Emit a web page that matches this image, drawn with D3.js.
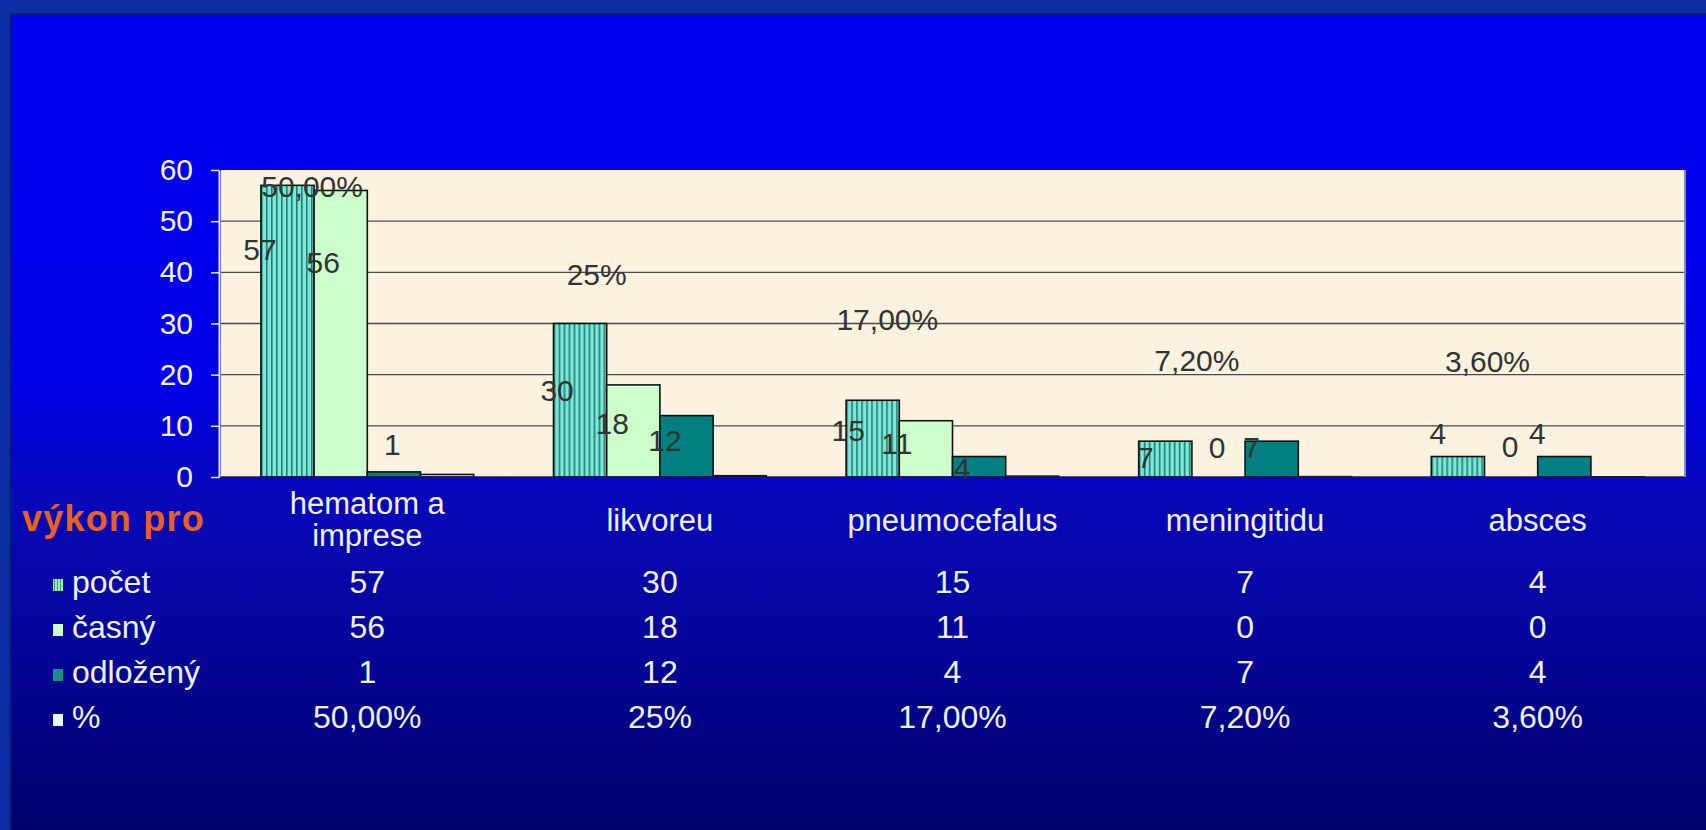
<!DOCTYPE html>
<html><head><meta charset="utf-8">
<script src="https://cdn.jsdelivr.net/npm/d3@7"></script>
<style>html,body{margin:0;padding:0;background:#0000e0;overflow:hidden}</style>
</head><body><svg id="chart" width="1706" height="830"></svg>
<script>
// ---- data ----
const categories = [["hematom a", "imprese"], ["likvoreu"], ["pneumocefalus"], ["meningitidu"], ["absces"]];
const seriesNames = ["počet", "časný", "odložený", "%"];
const pocet = [57, 30, 15, 7, 4];
const casny = [56, 18, 11, 0, 0];
const odlozeny = [1, 12, 4, 7, 4];
const percent = [0.5, 0.25, 0.17, 0.072, 0.036];
const percentLabels = ["50,00%", "25%", "17,00%", "7,20%", "3,60%"];
const yTicks = [0, 10, 20, 30, 40, 50, 60];
const tableHeader = "výkon pro";

// ---- layout (not data) ----
const W = 1706, H = 830;
const plot = {left: 221, right: 1684, top: 170, bottom: 477};
const FONT = "'Liberation Sans', Arial, sans-serif";
// label nudges [dx, dy] relative to bar centre / bar top (labels were hand-dragged in the original)
const labelNudge = [
  [[-27.5, 64], [-23, 66.5], [-24.5, 30], [-20, 16], [-20, -23.5]],
  [[-17.5, 72], [-21, 38], [-29, 22], [-1.5, -30], [-1, -31]],
  [[-1.5, -28], [-21.5, 25], [-17, 11.5], [-20, 6], [-27, -23.5]],
  [[-135, -288], [-143, -202], [-145, -157], [-128, -116], [-130, -116]]
];
const seriesValues = [pocet, casny, odlozeny, percent];
const seriesLabelText = [pocet.map(String), casny.map(String), odlozeny.map(String), percentLabels];
const tableText = [pocet.map(String), casny.map(String), odlozeny.map(String), percentLabels];
const seriesFill = ["url(#stripes)", "#ccffcc", "#008080", "#ccffff"];
const markerFill = ["url(#stripesSmall)", "#ccffcc", "#1a9080", "#e8ffff"];

const svg = d3.select("#chart");
const defs = svg.append("defs");

// background gradient
const g1 = defs.append("linearGradient").attr("id", "bg").attr("x1", 0).attr("y1", 0).attr("x2", 0).attr("y2", 1);
[[0, "#0000f2"], [0.45, "#0000e8"], [0.6, "#0808b8"], [0.8, "#040494"], [1, "#00006c"]]
  .forEach(([o, c]) => g1.append("stop").attr("offset", o).attr("stop-color", c));

// stripe pattern
const p = defs.append("pattern").attr("id", "stripes").attr("patternUnits", "userSpaceOnUse")
  .attr("width", 5).attr("height", 10);
p.append("rect").attr("width", 5).attr("height", 10).attr("fill", "#80e6d6");
p.append("rect").attr("x", 0).attr("width", 1.6).attr("height", 10).attr("fill", "#1b8078");
const p2 = defs.append("pattern").attr("id", "stripesSmall").attr("patternUnits", "userSpaceOnUse")
  .attr("width", 3).attr("height", 10);
p2.append("rect").attr("width", 3).attr("height", 10).attr("fill", "#a8f0b8");
p2.append("rect").attr("width", 1).attr("height", 10).attr("fill", "#2a9a70");

// background
svg.append("rect").attr("width", W).attr("height", H).attr("fill", "#0c2fa6");
svg.append("rect").attr("x", 10).attr("y", 13).attr("width", W - 10).attr("height", H - 13).attr("fill", "url(#bg)");
svg.append("line").attr("x1", 10.5).attr("x2", 10.5).attr("y1", 13).attr("y2", H).attr("stroke", "#0a1f70").attr("stroke-width", 2);
svg.append("line").attr("x1", 10).attr("x2", W).attr("y1", 14).attr("y2", 14).attr("stroke", "#0a1f70").attr("stroke-width", 2);

// scales
const x0 = d3.scaleBand().domain(d3.range(categories.length)).range([plot.left, plot.right]).paddingInner(0).paddingOuter(0);
const x1 = d3.scaleBand().domain(d3.range(seriesNames.length)).range([0, x0.bandwidth()]).paddingInner(0).paddingOuter(0.75);
const y = d3.scaleLinear().domain([0, 60]).range([plot.bottom, plot.top]);

// plot area
svg.append("rect").attr("x", plot.left).attr("y", plot.top).attr("width", plot.right - plot.left)
  .attr("height", plot.bottom - plot.top).attr("fill", "#fbf3df");
svg.append("line").attr("x1", plot.right + 1).attr("x2", plot.right + 1).attr("y1", plot.top).attr("y2", plot.bottom)
  .attr("stroke", "#8a8a9a").attr("stroke-width", 2);

// gridlines
svg.append("g").selectAll("line").data(yTicks.filter(t => t > 0 && t < 60)).join("line")
  .attr("x1", plot.left).attr("x2", plot.right).attr("y1", d => y(d)).attr("y2", d => y(d))
  .attr("stroke", "#4a4a4a").attr("stroke-width", 1.3);

// y axis
const yAxis = svg.append("g").attr("transform", `translate(${plot.left - 2},0)`)
  .call(d3.axisLeft(y).tickValues(yTicks).tickSizeInner(8).tickSizeOuter(0).tickPadding(18));
yAxis.select(".domain").attr("stroke", "#e8e8f0").attr("stroke-width", 2);
yAxis.selectAll(".tick line").attr("stroke", "#e8e8f0").attr("stroke-width", 1.5);
yAxis.selectAll(".tick text").attr("fill", "#f2f2ff").attr("font-family", FONT).attr("font-size", 30);

// bars
const groups = svg.append("g").selectAll("g").data(categories).join("g")
  .attr("transform", (d, i) => `translate(${x0(i)},0)`);
groups.selectAll("rect").data((d, i) => seriesValues.map((s, k) => ({k, v: s[i]}))).join("rect")
  .attr("x", d => x1(d.k)).attr("width", x1.bandwidth())
  .attr("y", d => y(d.v)).attr("height", d => y(0) - y(d.v))
  .attr("fill", d => seriesFill[d.k]).attr("stroke", "#111").attr("stroke-width", 1.6);

// baseline
svg.append("line").attr("x1", plot.left).attr("x2", plot.right).attr("y1", plot.bottom).attr("y2", plot.bottom)
  .attr("stroke", "#1a1a50").attr("stroke-width", 1.5);

// data labels
const labels = [];
categories.forEach((c, i) => seriesValues.forEach((s, k) => {
  labels.push({i, k, v: s[i], t: seriesLabelText[k][i]});
}));
svg.append("g").selectAll("text").data(labels).join("text")
  .attr("x", d => x0(d.i) + x1(d.k) + x1.bandwidth() / 2 + labelNudge[d.k][d.i][0])
  .attr("y", d => y(d.v) + labelNudge[d.k][d.i][1])
  .attr("dy", "0.36em").attr("text-anchor", "middle")
  .attr("font-family", FONT).attr("font-size", 30).attr("fill", "#333")
  .text(d => d.t);

// data table: category labels
const catG = svg.append("g");
categories.forEach((lines, i) => {
  const cx = x0(i) + x0.bandwidth() / 2;
  const base = lines.length === 2 ? 514 : 531;
  lines.forEach((ln, j) => {
    catG.append("text").attr("x", cx).attr("y", base + j * 32).attr("text-anchor", "middle")
      .attr("font-family", FONT).attr("font-size", 31).attr("fill", "#eef0ff").text(ln);
  });
});

// header
svg.append("text").attr("x", 22).attr("y", 531).attr("font-family", FONT).attr("font-weight", "bold")
  .attr("font-size", 36).attr("letter-spacing", 1.2).attr("fill", "#e8621e").text(tableHeader);

// rows
const rowBase = [593, 638, 683, 728];
seriesNames.forEach((name, k) => {
  svg.append("rect").attr("x", 53).attr("y", rowBase[k] - 14).attr("width", 10).attr("height", 12)
    .attr("fill", markerFill[k]);
  svg.append("text").attr("x", 72).attr("y", rowBase[k]).attr("font-family", FONT).attr("font-size", 32)
    .attr("fill", "#eef0ff").text(name);
  categories.forEach((c, i) => {
    svg.append("text").attr("x", x0(i) + x0.bandwidth() / 2).attr("y", rowBase[k]).attr("text-anchor", "middle")
      .attr("font-family", FONT).attr("font-size", 32).attr("fill", "#eef0ff").text(tableText[k][i]);
  });
});
</script>
</body></html>
